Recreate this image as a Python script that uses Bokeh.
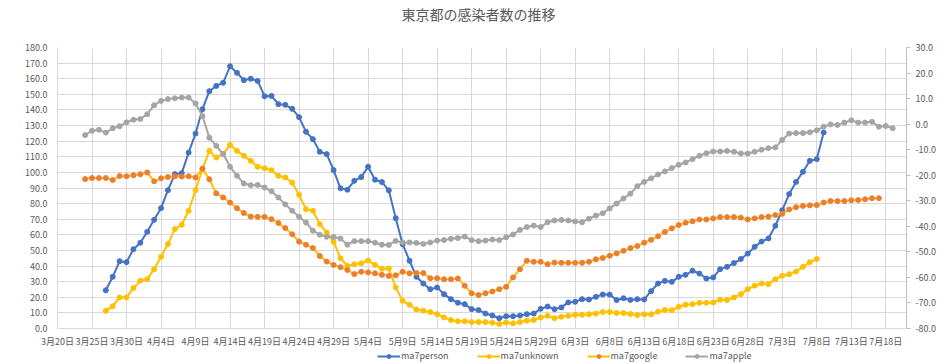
from bokeh.plotting import figure
from bokeh.models import (Range1d, LinearAxis, FixedTicker, NumeralTickFormatter,
                          Legend, LegendItem, Div)
from bokeh.layouts import column
from bokeh.embed import file_html
from bokeh.resources import INLINE

title_text = "東京都の感染者数の推移"

tick_days = [0, 5, 10, 15, 20, 25, 30, 35, 40, 45, 50, 55, 60, 65, 70, 75, 80, 85,
             90, 95, 100, 105, 110, 115, 120]
tick_labels = ["3月20日", "3月25日", "3月30日", "4月4日", "4月9日", "4月14日", "4月19日",
               "4月24日", "4月29日", "5月4日", "5月9日", "5月14日", "5月19日", "5月24日",
               "5月29日", "6月3日", "6月8日", "6月13日", "6月18日", "6月23日", "6月28日",
               "7月3日", "7月8日", "7月13日", "7月18日"]
left_ticks = [0, 10, 20, 30, 40, 50, 60, 70, 80, 90, 100, 110, 120, 130, 140, 150, 160, 170, 180]
right_ticks = [-80, -70, -60, -50, -40, -30, -20, -10, 0, 10, 20, 30]

# day index 0 = 3月20日
person_start = 7
ma7person = [24.5, 33.1, 43.1, 42.5, 50.8, 54.9, 61.9, 69.6, 77.1, 88.6,
             98.9, 99.5, 112.7, 124.9, 140.5, 152.0, 155.4, 157.4, 168.0, 163.8,
             159.1, 160.0, 158.6, 148.8, 149.0, 143.7, 143.3, 140.7, 135.4, 126.0,
             121.3, 113.2, 111.7, 101.5, 89.8, 88.9, 94.6, 97.0, 103.6, 95.3,
             93.8, 88.5, 70.7, 54.0, 43.4, 33.1, 28.8, 25.2, 26.3, 22.0,
             18.8, 16.5, 15.6, 12.4, 11.8, 9.6, 8.3, 6.6, 7.9, 7.9,
             8.3, 9.2, 9.6, 12.6, 14.1, 12.4, 13.5, 16.7, 17.1, 18.8,
             18.6, 20.3, 21.8, 21.7, 18.2, 19.4, 18.3, 18.8, 18.6, 23.9,
             28.8, 30.5, 29.9, 33.1, 34.4, 37.0, 35.2, 32.0, 32.7, 38.0,
             39.5, 41.9, 44.5, 48.0, 52.3, 55.7, 57.7, 65.8, 75.8, 86.1,
             93.9, 100.4, 107.4, 108.5, 125.6]

unknown_start = 7
ma7unknown = [11.3, 14.3, 19.9, 19.9, 25.9, 30.6, 31.6, 38.0, 45.9, 54.1,
              63.7, 66.5, 75.4, 88.6, 102.0, 113.8, 109.5, 111.7, 117.6, 113.8,
              110.6, 107.4, 103.6, 102.7, 101.4, 97.8, 96.7, 93.5, 85.6, 76.4,
              75.4, 66.8, 61.5, 55.6, 45.0, 40.1, 41.2, 41.8, 43.5, 40.8,
              38.2, 38.4, 26.3, 17.7, 15.2, 12.2, 11.4, 10.5, 9.2, 7.1,
              5.4, 4.6, 4.6, 4.1, 4.1, 4.1, 3.7, 2.9, 3.9, 3.3,
              4.1, 5.0, 5.4, 7.1, 8.1, 6.6, 7.5, 8.1, 8.8, 8.8,
              9.2, 9.6, 10.6, 10.6, 10.0, 9.9, 9.3, 8.6, 9.1, 9.1,
              10.8, 11.9, 11.7, 13.9, 15.2, 15.6, 16.5, 16.5, 16.7, 18.4,
              18.2, 19.9, 22.0, 25.2, 27.4, 28.8, 28.4, 31.6, 33.8, 34.8,
              36.5, 39.5, 42.5, 44.5]

google_start = 4
ma7google = [-21.5, -21.1, -21.1, -21.1, -21.9, -20.3, -20.4, -20.0, -19.6, -18.9,
             -22.4, -21.2, -20.7, -20.4, -20.5, -20.4, -20.9, -17.4, -21.6, -27.1,
             -28.7, -30.7, -32.9, -34.8, -36.2, -36.3, -36.3, -37.2, -38.7, -40.7,
             -43.1, -46.0, -47.2, -48.5, -51.6, -53.8, -55.1, -56.0, -57.1, -58.7,
             -57.8, -58.0, -58.4, -59.0, -59.4, -59.2, -57.8, -58.4, -58.3, -58.3,
             -60.3, -60.3, -60.7, -60.7, -60.4, -63.3, -66.2, -66.9, -66.2, -65.5,
             -64.6, -63.7, -60.0, -56.8, -53.5, -53.9, -53.9, -54.8, -54.2, -54.3,
             -54.3, -54.3, -54.3, -53.9, -52.9, -52.4, -51.5, -50.6, -49.6, -48.5,
             -47.7, -46.4, -45.3, -43.9, -42.2, -40.8, -39.5, -38.6, -38.0, -37.3,
             -37.3, -36.9, -36.4, -36.4, -36.4, -36.6, -37.3, -36.9, -36.4, -36.2,
             -35.6, -35.1, -33.4, -32.5, -32.0, -31.8, -31.7, -30.7, -30.1, -30.1,
             -30.1, -29.8, -29.7, -29.4, -29.0, -29.0]

apple_start = 4
ma7apple = [-4.3, -2.6, -2.2, -3.3, -1.6, -0.8, 0.7, 1.7, 2.0, 3.9,
            7.4, 9.1, 9.8, 10.1, 10.4, 10.4, 8.1, 3.2, -5.3, -8.5,
            -11.7, -16.7, -20.2, -23.2, -23.9, -23.8, -24.8, -26.3, -28.7, -31.4,
            -33.9, -36.3, -38.5, -41.7, -43.3, -44.1, -44.2, -44.8, -47.2, -45.8,
            -45.8, -45.8, -46.4, -47.2, -47.3, -45.7, -46.3, -46.3, -46.5, -46.9,
            -46.3, -45.6, -45.4, -44.9, -44.6, -44.0, -45.4, -45.8, -45.6, -45.2,
            -45.4, -44.3, -43.2, -41.4, -40.3, -39.7, -40.3, -38.4, -37.7, -37.5,
            -37.7, -38.1, -38.4, -37.0, -35.8, -34.9, -33.0, -31.1, -29.1, -27.2,
            -24.3, -22.6, -21.2, -19.7, -18.5, -17.2, -15.9, -15.0, -13.7, -12.4,
            -11.4, -10.7, -10.7, -10.5, -10.8, -11.5, -11.5, -10.8, -10.0, -9.4,
            -9.1, -6.2, -3.7, -3.5, -3.5, -3.2, -2.4, -1.0, -0.1, -0.3,
            0.6, 1.5, 0.6, 0.6, 0.9, -1.0, -0.7, -1.6]

FONT = "Noto Sans CJK JP"
TXT = "#595959"
GRID = "#D9D9D9"
W = 945

title = Div(text=title_text, width=W, height=39, margin=0,
            styles={"font-family": FONT, "font-size": "14px", "color": TXT,
                    "text-align": "center", "padding-top": "4px", "padding-left": "12px",
                    "box-sizing": "border-box", "line-height": "20px"})

p = figure(width=W, height=311, x_range=Range1d(0, 123), y_range=Range1d(0, 180),
           output_backend="svg", toolbar_location=None,
           min_border_left=57, min_border_right=39, min_border_top=8, min_border_bottom=22)
p.outline_line_color = None
p.background_fill_color = "white"
p.border_fill_color = "white"

p.extra_y_ranges = {"right": Range1d(-80, 30)}

xa = p.xaxis[0]
xa.ticker = FixedTicker(ticks=tick_days)
xa.major_label_overrides = {d: l for d, l in zip(tick_days, tick_labels)}
xa.major_tick_in = 0
xa.major_tick_out = 0
xa.minor_tick_in = 0
xa.minor_tick_out = 0
xa.major_tick_line_color = None
xa.minor_tick_line_color = None
xa.axis_line_color = GRID
xa.major_label_text_font = FONT
xa.major_label_text_font_size = "9px"
xa.major_label_text_color = TXT
xa.major_label_standoff = 6

ya = p.yaxis[0]
ya.ticker = FixedTicker(ticks=left_ticks)
ya.formatter = NumeralTickFormatter(format="0.0")
ya.major_tick_in = 0
ya.major_tick_out = 0
ya.minor_tick_in = 0
ya.minor_tick_out = 0
ya.major_tick_line_color = None
ya.minor_tick_line_color = None
ya.axis_line_color = GRID
ya.major_label_text_font = FONT
ya.major_label_text_font_size = "9px"
ya.major_label_text_color = TXT
ya.major_label_standoff = 10

ra = LinearAxis(y_range_name="right", ticker=FixedTicker(ticks=right_ticks),
                formatter=NumeralTickFormatter(format="0.0"))
ra.major_tick_in = 0
ra.major_tick_out = 4
ra.minor_tick_in = 0
ra.minor_tick_out = 0
ra.major_tick_line_color = "#BFBFBF"
ra.minor_tick_line_color = None
ra.axis_line_color = "#BFBFBF"
ra.major_label_text_font = FONT
ra.major_label_text_font_size = "9px"
ra.major_label_text_color = TXT
ra.major_label_standoff = 5
p.add_layout(ra, "right")

p.xgrid.ticker = FixedTicker(ticks=tick_days)
p.ygrid.ticker = FixedTicker(ticks=left_ticks)
p.xgrid.grid_line_color = GRID
p.ygrid.grid_line_color = GRID

def days(start, vals):
    return list(range(start, start + len(vals)))

specs = [
    ("ma7person", person_start, ma7person, "#4472C4", "#4472C4", "default"),
    ("ma7unknown", unknown_start, ma7unknown, "#FFC000", "#FFC000", "default"),
    ("ma7google", google_start, ma7google, "#FFC000", "#ED7D31", "right"),
    ("ma7apple", apple_start, ma7apple, "#A5A5A5", "#A5A5A5", "right"),
]
for name, st, vals, lc, mc, rng in specs:
    xs = days(st, vals)
    p.line(xs, vals, line_color=lc, line_width=2, y_range_name=rng)
    p.scatter(xs, vals, size=5, fill_color=mc, line_color=mc, y_range_name=rng)

# legend strip below the chart (its sample glyphs lie outside its own view)
lg = figure(width=W, height=14, x_range=Range1d(0, 1), y_range=Range1d(0, 1),
            x_axis_type=None, y_axis_type=None, output_backend="svg",
            toolbar_location=None, min_border=0)
lg.outline_line_color = None
lg.xgrid.visible = False
lg.ygrid.visible = False
items = []
for name, st, vals, lc, mc, rng in specs:
    l = lg.line([5, 6], [5, 6], line_color=lc, line_width=2)
    s = lg.scatter([5], [5], size=5, fill_color=mc, line_color=mc)
    items.append(LegendItem(label=name, renderers=[l, s]))
leg = Legend(items=items, orientation="horizontal", location=(320, 2),
             glyph_width=23, glyph_height=10, label_standoff=1, spacing=28,
             label_text_font=FONT, label_text_font_size="9px", label_text_color=TXT,
             label_height=10, padding=0, margin=0, border_line_color=None,
             background_fill_alpha=0)
lg.add_layout(leg, "center")

layout = column(title, p, lg, spacing=0)
open("out.html", "w").write(file_html(layout, INLINE))
